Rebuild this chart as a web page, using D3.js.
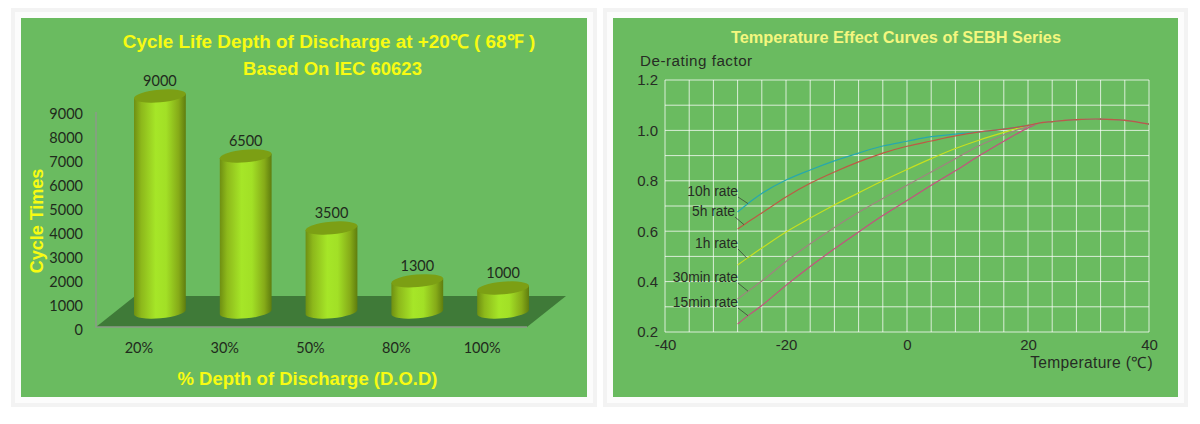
<!DOCTYPE html>
<html>
<head>
<meta charset="utf-8">
<script src="https://cdn.jsdelivr.net/npm/d3@7"></script>
<style>
  html, body { margin: 0; padding: 0; background: #fff; overflow: hidden; }
  svg { display: block; }
  .arial { font-family: "Liberation Sans", Arial, sans-serif; }
</style>
</head>
<body>
<svg width="1200" height="424"></svg>
<script>
// left chart
const dodLabels = ["20%", "30%", "50%", "80%", "100%"];
const cycleTimes = [9000, 6500, 3500, 1300, 1000];
const cycleTicks = [0, 1000, 2000, 3000, 4000, 5000, 6000, 7000, 8000, 9000];

// right chart, all curves share the temperature list
const temps = [-28, -26, -24, -20, -16, -12, -8, -4, 0, 4, 8, 12, 16, 20, 22, 24, 28, 32, 36, 40];
const rate10h = [0.676, 0.715, 0.750, 0.803, 0.843, 0.879, 0.910, 0.938, 0.957, 0.975, 0.985, 0.994, 1.005, 1.020];
const rate5h = [0.609, 0.641, 0.672, 0.736, 0.790, 0.835, 0.875, 0.910, 0.937, 0.958, 0.978, 0.994, 1.005, 1.020];
const rate1h = [0.466, 0.500, 0.533, 0.597, 0.652, 0.704, 0.752, 0.800, 0.845, 0.888, 0.928, 0.962, 0.992, 1.020];
const rate30m = [0.331, 0.367, 0.402, 0.480, 0.550, 0.615, 0.675, 0.730, 0.782, 0.835, 0.888, 0.940, 0.982, 1.017];
const rate15m = [0.232, 0.270, 0.305, 0.385, 0.460, 0.530, 0.597, 0.662, 0.722, 0.782, 0.840, 0.900, 0.957, 1.010];
const commonTail = [1.030, 1.035, 1.043, 1.045, 1.040, 1.025];
const rateNames = ["15min rate", "30min rate", "1h rate", "10h rate", "5h rate"];
const rateValues = [rate15m, rate30m, rate1h, rate10h, rate5h];
const rateColors = ["#c4517f", "#a0837f", "#c6e01f", "#27a8ad", "#bd5a45"];

const svg = d3.select("svg");
const panelGreen = "#6abb60";

// frames
function frame(x0, x1) {
    svg.append("rect").attr("x", x0).attr("y", 8).attr("width", x1 - x0).attr("height", 399).attr("fill", "#f3f3f3");
    svg.append("rect").attr("x", x0 + 4).attr("y", 12).attr("width", x1 - x0 - 8).attr("height", 391).attr("fill", "#fcfcfc");
    svg.append("rect").attr("x", x0 + 10).attr("y", 18).attr("width", x1 - x0 - 20).attr("height", 379).attr("fill", panelGreen);
}
frame(11, 597);
frame(603, 1188);

// ---- left chart ----
const left = svg.append("g");
const xBand = d3.scaleBand().domain(dodLabels).range([96, 525]);
const yCycle = d3.scaleLinear().domain([0, 9000]).range([328, 112]);
const depthX = 21, depthY = -16;

const defs = svg.append("defs");
const grad = defs.append("linearGradient").attr("id", "cyl").attr("x1", "0").attr("x2", "1").attr("y1", "0").attr("y2", "0");
[[0, "#6f8f12"], [0.14, "#8db81b"], [0.42, "#a6e628"], [0.62, "#a2e026"], [0.86, "#86ab18"], [1, "#5f7d0e"]]
    .forEach(s => grad.append("stop").attr("offset", s[0]).attr("stop-color", s[1]));

// floor
left.append("path")
    .attr("d", d3.line()([[96, 327], [135, 296], [566, 296], [527, 327]]))
    .attr("fill", "#3f7a38");
left.append("path")
    .attr("d", d3.line()([[96, 112], [96, 327], [527, 327]]))
    .attr("fill", "none").attr("stroke", "#8c9a88").attr("stroke-width", 1.5);

// cylinders
const rx = 26, ry = 6.3, tilt = -5;
const dx = rx * Math.cos(tilt * Math.PI / 180), dy = rx * Math.sin(tilt * Math.PI / 180);
dodLabels.forEach((label, i) => {
    const cx = xBand(label) + xBand.bandwidth() / 2 + depthX;
    const top = yCycle(cycleTimes[i]) + depthY;
    const base = yCycle(0) + depthY;
    left.append("path")
        .attr("d", `M${cx - dx},${top - dy}L${cx - dx},${base - dy}A${rx},${ry} ${tilt} 0 0 ${cx + dx},${base + dy}L${cx + dx},${top + dy}Z`)
        .attr("fill", "url(#cyl)");
    left.append("ellipse")
        .attr("rx", rx).attr("ry", ry)
        .attr("transform", `translate(${cx},${top}) rotate(${tilt})`)
        .attr("fill", "#7c9f14");
    left.append("text")
        .attr("x", cx).attr("y", top - 10)
        .attr("text-anchor", "middle")
        .attr("font-family", "Lato, sans-serif").attr("font-size", 14.5).attr("fill", "#1f2a1c")
        .text(cycleTimes[i]);
});

// axes labels
const yAxisL = left.append("g").attr("transform", "translate(83,2)")
    .call(d3.axisLeft(yCycle).tickValues(cycleTicks).tickSize(0).tickPadding(0).tickFormat(d3.format("d")));
yAxisL.select(".domain").remove();
yAxisL.selectAll("text").attr("font-family", "Lato, sans-serif").attr("font-size", 14.5).attr("fill", "#1f2a1c");

const xAxisL = left.append("g").attr("transform", "translate(0,343)")
    .call(d3.axisBottom(xBand).tickSize(0).tickPadding(0));
xAxisL.select(".domain").remove();
xAxisL.selectAll("text").attr("font-family", "Lato, sans-serif").attr("font-size", 14.5).attr("fill", "#1f2a1c");

function yellowText(sel, txt, x, y, size) {
    return sel.append("text").attr("class", "arial")
        .attr("x", x).attr("y", y)
        .attr("text-anchor", "middle")
        .attr("font-weight", "bold").attr("font-size", size).attr("fill", "#f8fb12")
        .text(txt);
}
yellowText(left, "Cycle Life Depth of Discharge at +20℃ ( 68℉ )", 329, 48, 18.9);
yellowText(left, "Based On IEC 60623", 332.5, 75, 18.5);
yellowText(left, "% Depth of Discharge (D.O.D)", 307.5, 385, 18.5);
yellowText(left, "Cycle Times", 0, 0, 18).attr("transform", "translate(43,221) rotate(-90)");

// ---- right chart ----
const right = svg.append("g");
const xTemp = d3.scaleLinear().domain([-40, 40]).range([665, 1149]);
const yRate = d3.scaleLinear().domain([0.2, 1.2]).range([332, 80]);

d3.range(-40, 41, 4).forEach(t => {
    right.append("line").attr("x1", xTemp(t)).attr("x2", xTemp(t)).attr("y1", 80).attr("y2", 332)
        .attr("stroke", "#fff").attr("stroke-opacity", 0.75);
});
d3.range(2, 13).forEach(k => {
    right.append("line").attr("x1", 665).attr("x2", 1149).attr("y1", yRate(k / 10)).attr("y2", yRate(k / 10))
        .attr("stroke", "#fff").attr("stroke-opacity", 0.75);
});

const rateLine = d3.line().x(d => xTemp(d[0])).y(d => yRate(d[1])).curve(d3.curveCatmullRom);
rateValues.forEach((vals, i) => {
    const pts = vals.concat(commonTail).map((v, j) => [temps[j], v]);
    right.append("path").attr("d", rateLine(pts))
        .attr("fill", "none").attr("stroke", rateColors[i]).attr("stroke-width", 1.2);
});

const yAxisR = right.append("g").attr("transform", "translate(658,0)")
    .call(d3.axisLeft(yRate).tickValues([0.2, 0.4, 0.6, 0.8, 1.0, 1.2]).tickSize(0).tickPadding(0).tickFormat(d3.format(".1f")));
yAxisR.select(".domain").remove();
const xAxisR = right.append("g").attr("transform", "translate(0,339)")
    .call(d3.axisBottom(xTemp).tickValues([-40, -20, 0, 20, 40]).tickSize(0).tickPadding(0).tickFormat(d => String(d)));
xAxisR.select(".domain").remove();
right.selectAll("g text").attr("class", "arial").attr("font-family", null).attr("font-size", 15).attr("fill", "#262c24");

function darkText(txt, x, y, size, anchor, spacing) {
    return right.append("text").attr("class", "arial")
        .attr("x", x).attr("y", y).attr("text-anchor", anchor)
        .attr("font-size", size).attr("fill", "#262c24")
        .attr("letter-spacing", spacing || 0)
        .text(txt);
}
right.append("text").attr("class", "arial")
    .attr("x", 896).attr("y", 43).attr("text-anchor", "middle")
    .attr("font-weight", "bold").attr("font-size", 16.3).attr("fill", "#f4f77f")
    .text("Temperature Effect Curves of SEBH Series");
darkText("De-rating factor", 640, 66, 15.2, "start", 0.5);
darkText("Temperature (℃)", 1153, 368, 15.6, "end", 0.3);

// rate labels with leader lines
const rateLabelY = [307, 282, 248, 196, 216];
const rateLabelX = [738, 738, 738, 738, 735];
const rateLeaderEnd = [748, 748, 747, 748, 744];
rateNames.forEach((name, i) => {
    darkText(name, rateLabelX[i], rateLabelY[i], 13.8, "end");
    const curveAt = d3.scaleLinear().domain(temps).range(rateValues[i].concat(commonTail));
    right.append("line")
        .attr("x1", rateLabelX[i]).attr("y1", rateLabelY[i] + 1)
        .attr("x2", rateLeaderEnd[i]).attr("y2", yRate(curveAt(xTemp.invert(rateLeaderEnd[i]))))
        .attr("stroke", "#3c4a38").attr("stroke-width", 0.8);
});
</script>
</body>
</html>
